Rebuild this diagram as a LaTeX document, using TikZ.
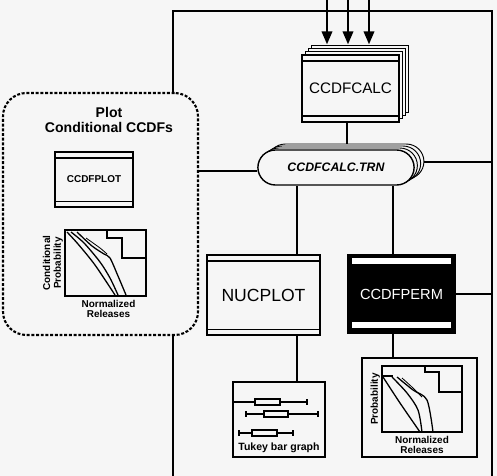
\documentclass[tikz,border=0pt]{standalone}
\usepackage{fontspec}
\setmainfont{Liberation Sans}
\usetikzlibrary{shapes.misc,shadows,arrows.meta,calc}
\definecolor{bg}{RGB}{246,246,246}
\pgfdeclarelayer{back}
\pgfdeclarelayer{wires}
\pgfsetlayers{back,wires,main}

\begin{document}
\begin{tikzpicture}[x=0.03cm,y=-0.03cm,
  modbox/.style={draw,line width=1.2pt,fill=bg,inner sep=0pt,
                 path picture={
                   \draw[line width=1.1pt] ([yshift=-5pt]path picture bounding box.north west) -- ([yshift=-5pt]path picture bounding box.north east);
                   \draw[line width=1.1pt] ([yshift=5pt]path picture bounding box.south west) -- ([yshift=5pt]path picture bounding box.south east);}},
  permbox/.style={draw,line width=1.2pt,fill=black,text=white,inner sep=0pt,
                 path picture={
                   \fill[white] ($(path picture bounding box.north west)+(3pt,-2.5pt)$) rectangle ($(path picture bounding box.north east)+(-3pt,-8pt)$);
                   \fill[white] ($(path picture bounding box.south west)+(3pt,4pt)$) rectangle ($(path picture bounding box.south east)+(-3pt,9.5pt)$);}},
  calcstack/.style={
    copy shadow={shadow xshift=7.8pt,shadow yshift=8.4pt,fill=bg,draw,line width=0.8pt},
    copy shadow={shadow xshift=5.2pt,shadow yshift=5.6pt,fill=bg,draw,line width=0.8pt},
    copy shadow={shadow xshift=2.6pt,shadow yshift=2.8pt,fill=bg,draw,line width=0.8pt}},
  trnstack/.style={
    copy shadow={shadow xshift=8.4pt,shadow yshift=5.1pt,fill=bg,draw,line width=0.8pt},
    copy shadow={shadow xshift=5.6pt,shadow yshift=3.4pt,fill=bg,draw,line width=0.8pt},
    copy shadow={shadow xshift=2.8pt,shadow yshift=1.7pt,fill=bg,draw,line width=0.8pt}},
  figbox/.style={draw,line width=1.2pt,fill=bg,inner sep=0pt},
  axbox/.style={draw,line width=1.3pt,fill=bg,inner sep=0pt},
  axlabel/.style={font=\bfseries\fontsize{8.5}{9}\selectfont,align=center,inner sep=1pt},
  link/.style={line width=1.3pt},
  inarr/.style={-{Triangle[length=11pt,width=9pt]},line width=1.5pt},
  curve/.style={line width=1.1pt},
]

\useasboundingbox (0,0) rectangle (497,476);
\clip (0,0) rectangle (497,476);
\begin{pgfonlayer}{back}
  \fill[bg] (0,0) rectangle (497,476);
\end{pgfonlayer}

% Outer frame
\node[draw,line width=1.4pt,inner sep=0pt,outer sep=0pt,anchor=north west,
      minimum width=9.57cm,minimum height=16cm] (frame) at (173,11) {};

% Calculation modules
\node[modbox,calcstack,minimum width=2.91cm,minimum height=2.01cm,
      font=\fontsize{13}{15}\selectfont] (calc) at (350.5,88.5) {CCDFCALC};
\node[rounded rectangle,draw,line width=1.2pt,fill=bg,trnstack,
      minimum width=4.92cm,minimum height=1.05cm,
      font=\bfseries\itshape\fontsize{10.5}{12}\selectfont] (trn) at (336,167.5) {CCDFCALC.TRN};
\node[modbox,minimum width=3.39cm,minimum height=2.4cm,
      font=\fontsize{15}{17}\selectfont] (nuc) at (263.5,295) {NUCPLOT};
\node[permbox,minimum width=3.21cm,minimum height=2.34cm,
      font=\fontsize{12.5}{14}\selectfont] (perm) at (401.5,294) {CCDFPERM};

% Tukey bar graph
\node[figbox,minimum width=2.76cm,minimum height=2.25cm] (tukey) at (279,419.5) {};
\draw[line width=1.1pt] (233,402) -- (307,402) (307,399) -- (307,405);
\draw[line width=1.1pt,fill=bg] (255,399) rectangle (280,405);
\draw[line width=1.1pt] (246,414) -- (318,414) (246,411) -- (246,417) (318,411) -- (318,417);
\draw[line width=1.1pt,fill=bg] (264,411) rectangle (288,417);
\draw[line width=1.1pt] (239,433) -- (293,433) (239,430) -- (239,436) (293,430) -- (293,436);
\draw[line width=1.1pt,fill=bg] (252,430) rectangle (277,436);
\node[font=\bfseries\fontsize{9}{10}\selectfont] (tukeytxt) at (279,448) {Tukey bar graph};

% Probability plot
\node[figbox,minimum width=3.45cm,minimum height=2.97cm] (pplot) at (419.5,407.5) {};
\node[axbox,minimum width=2.4cm,minimum height=1.98cm] (paxes) at (422,399) {};
\draw[line width=1.1pt] (425,366) -- (425,372) -- (439,372) -- (439,392) -- (462,392);
\draw[curve] (382,376) -- (393,376);
\draw[curve] plot[smooth] coordinates {(383,377) (400,403) (420,432)};
\draw[curve] plot[smooth] coordinates {(392,377) (407,393) (418,410) (422,432)};
\draw[curve] plot[smooth] coordinates {(397,377) (413,390) (427,400) (433,432)};
\draw[curve,line width=0.7pt] plot[smooth] coordinates {(402,378) (413,388) (422,397)};
\node[axlabel,rotate=90,anchor=south] (pylab) at (paxes.west) {Probability};
\node[axlabel,anchor=north] (pxlab) at ($(paxes.south)+(0,2)$) {Normalized\\Releases};

% Plot conditional CCDFs group
\node[draw,line width=1.8pt,dash pattern=on 2.5pt off 1.5pt,rounded corners=20pt,fill=bg,
      minimum width=5.85cm,minimum height=7.26cm] (plotgrp) at (100.5,214) {};
\node[font=\bfseries\fontsize{12}{13.6}\selectfont,align=center] (grptitle) at (109,120)
  {Plot\\Conditional CCDFs};
\node[modbox,minimum width=2.34cm,minimum height=1.65cm,
      font=\bfseries\fontsize{8.5}{10}\selectfont] (cplot) at (94,179.5) {CCDFPLOT};
\node[axbox,minimum width=2.43cm,minimum height=1.98cm] (caxes) at (105.5,263) {};
\draw[line width=1.1pt] (107,231) -- (107,238) -- (122,238) -- (122,258) -- (146,258);
\draw[curve] plot[smooth] coordinates {(67,232) (78,244) (95,265) (115,295)};
\draw[curve] plot[smooth] coordinates {(71,232) (84,243) (100,262) (110,278) (118,295)};
\draw[curve] plot[smooth] coordinates {(77,232) (92,246) (104,254) (110,258) (118,276) (126,295)};
\draw[curve,line width=0.7pt] plot[smooth] coordinates {(86,238) (100,248) (107,254)};
\node[axlabel,rotate=90,anchor=south] (cylab) at (caxes.west) {Conditional\\Probability};
\node[axlabel,anchor=north] (cxlab) at ($(caxes.south)+(3,2)$) {Normalized\\Releases};

% Inputs
\coordinate (in1) at (327,0);
\coordinate (in2) at (348,0);
\coordinate (in3) at (369,0);
\draw[inarr] (in1) -- ($(in1 |- calc.north)+(0,-10)$);
\draw[inarr] (in2) -- ($(in2 |- calc.north)+(0,-10)$);
\draw[inarr] (in3) -- ($(in3 |- calc.north)+(0,-10)$);

% Connections
\begin{pgfonlayer}{wires}
  \draw[link] ([xshift=-3pt]calc.south) -- ([xshift=-3pt]calc.south |- trn.north);
  \draw[link] ([yshift=-3pt]trn.west) -- ([yshift=-3pt]trn.west -| plotgrp.east);
  \draw[link] ([yshift=4.7pt]trn.east) -- ([yshift=4.7pt]trn.east -| frame.east);
  \draw[link] ([xshift=28.5pt]nuc.north) -- ([xshift=28.5pt]nuc.north |- trn.south);
  \draw[link] ([xshift=28.5pt]nuc.south) -- ([xshift=28.5pt]nuc.south |- tukey.north);
  \draw[link] ([xshift=-7.2pt]perm.north) -- ([xshift=-7.2pt]perm.north |- trn.south);
  \draw[link] ([xshift=-7.2pt]perm.south) -- ([xshift=-7.2pt]perm.south |- pplot.north);
  \draw[link] (perm.east) -- (perm.east -| frame.east);
  \draw[link] ([xshift=4pt]cplot.south) -- ([xshift=4pt]cplot.south |- caxes.north);
\end{pgfonlayer}

\end{tikzpicture}
\end{document}
